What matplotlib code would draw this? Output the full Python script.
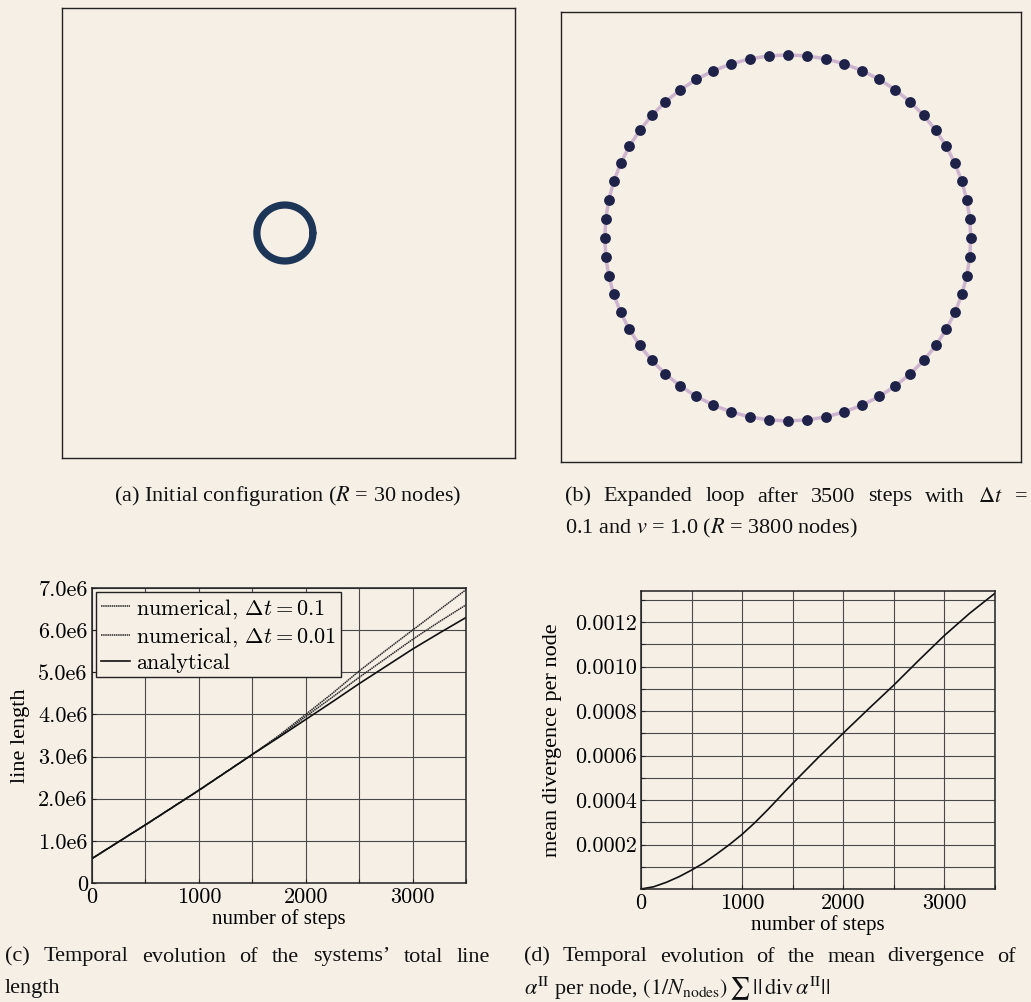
"""loop expansion figure: initial/expanded configuration, line length and divergence"""
import numpy as np
import matplotlib
matplotlib.use("Agg")
import matplotlib.pyplot as plt
from matplotlib.ticker import MultipleLocator, FixedLocator, FuncFormatter

# initial and expanded loop
R_initial = 30
n_nodes_initial = 190
R_expanded = 3800
n_nodes_expanded = 60

# line length vs. number of steps
steps = [0, 500, 1000, 1500, 1750, 2000, 2250, 2500, 2750, 3000, 3250, 3500]
length_dt01 = [0.58e6, 1.38e6, 2.20e6, 3.05e6, 3.50e6, 4.00e6, 4.50e6, 5.03e6,
               5.52e6, 6.00e6, 6.48e6, 6.96e6]
length_dt001 = [0.58e6, 1.38e6, 2.20e6, 3.05e6, 3.48e6, 3.95e6, 4.41e6, 4.88e6,
                5.33e6, 5.78e6, 6.20e6, 6.60e6]
length_analytical = [0.58e6, 1.38e6, 2.20e6, 3.05e6, 3.46e6, 3.88e6, 4.30e6, 4.73e6,
                     5.14e6, 5.55e6, 5.93e6, 6.30e6]

# mean divergence per node vs. number of steps
div_steps = [0, 125, 250, 375, 500, 625, 750, 875, 1000, 1125, 1250, 1375, 1500,
             1750, 2000, 2250, 2500, 2750, 3000, 3250, 3500]
mean_div = [0.0, 0.000010, 0.000030, 0.000055, 0.000085, 0.000118, 0.000158,
            0.000200, 0.000246, 0.000298, 0.000355, 0.000415, 0.000475,
            0.000590, 0.000701, 0.000810, 0.000917, 0.001030, 0.001140,
            0.001240, 0.001330]

BG = '#f6efe6'
LOOP_COLOR = '#1d3557'
NODE_COLOR = '#1f2248'

plt.rcParams['font.family'] = ['cmr10']
plt.rcParams['mathtext.fontset'] = 'cm'
plt.rcParams['axes.formatter.use_mathtext'] = True
plt.rcParams['axes.unicode_minus'] = False

CAPTION_FONT = ['Liberation Serif', 'DejaVu Serif']
W, H = 1031, 1002


def ax_rect(x0, y0, x1, y1):
    """pixel box (top-left origin) -> figure fraction rect"""
    return [x0 / W, 1 - y1 / H, (x1 - x0) / W, (y1 - y0) / H]


def loop_view(ax, radius, px_radius, box_w, box_h, fx, fy):
    """set limits so the loop of given radius spans px_radius pixels"""
    scale = px_radius / radius
    xr, yr = box_w / scale, box_h / scale
    ax.set_xlim(-fx * xr, (1 - fx) * xr)
    ax.set_ylim(-(1 - fy) * yr, fy * yr)
    ax.set_xticks([])
    ax.set_yticks([])
    ax.set_facecolor(BG)
    for sp in ax.spines.values():
        sp.set_linewidth(1.0)
        sp.set_color('#222222')


def caption(x, y, s, ha='left'):
    return fig.text(x / W, 1 - y / H, s, ha=ha, va='center', fontsize=16,
                    family=CAPTION_FONT, math_fontfamily='stix', color='#111111')


def caption_justified(x0, x1, y, words):
    """spread the words of one caption line over x0..x1 pixels"""
    texts = [caption(0, y, w) for w in words]
    renderer = fig.canvas.get_renderer()
    widths = [t.get_window_extent(renderer).width for t in texts]
    gap = (x1 - x0 - sum(widths)) / (len(words) - 1)
    x = x0
    for t, w in zip(texts, widths):
        t.set_x(x / W)
        x += w + gap


def axis_label(ax, xlabel, ylabel, ypad):
    ax.set_xlabel(xlabel, family=CAPTION_FONT, fontsize=15, labelpad=1.5)
    ax.set_ylabel(ylabel, family=CAPTION_FONT, fontsize=16, labelpad=ypad)


def style_plot(ax):
    ax.set_facecolor(BG)
    ax.grid(True, which='both', color='#4a4a4a', linewidth=0.8)
    ax.set_axisbelow(True)
    ax.tick_params(which='both', direction='in', length=3, width=0.8,
                   labelsize=16, pad=3, color='#222222')
    for sp in ax.spines.values():
        sp.set_linewidth(1.1)
        sp.set_color('#222222')


fig = plt.figure(figsize=(W / 100, H / 100), dpi=100, facecolor=BG)

# (a) initial configuration
ax_a = fig.add_axes(ax_rect(62, 8, 515, 458))
loop_view(ax_a, R_initial, 28, 453, 450, 0.492, 0.5)
theta = np.linspace(0, 2 * np.pi, n_nodes_initial + 1)
ax_a.plot(R_initial * np.cos(theta), R_initial * np.sin(theta),
          color=LOOP_COLOR, linewidth=5.2, solid_capstyle='round')

# (b) expanded loop
ax_b = fig.add_axes(ax_rect(561, 12, 1021, 462))
loop_view(ax_b, R_expanded, 183, 460, 450, 0.493, 0.502)
theta = np.linspace(0, 2 * np.pi, n_nodes_expanded + 1)
ax_b.plot(R_expanded * np.cos(theta), R_expanded * np.sin(theta),
          color='#cdb5cf', linewidth=2.5, zorder=1)
ax_b.plot(R_expanded * np.cos(theta[:-1]), R_expanded * np.sin(theta[:-1]),
          'o', color=NODE_COLOR, markersize=7.8, markeredgewidth=0, zorder=2)

caption(288, 496, r'(a) Initial configuration ($R$ = 30 nodes)', ha='center')
caption_justified(565, 1028, 497, ['(b)', 'Expanded', 'loop', 'after', '3500',
                                   'steps', 'with', r'$\Delta t$', '='])
caption(565, 528, r'0.1 and $v$ = 1.0 ($R$ = 3800 nodes)')

# (c) total line length
ax_c = fig.add_axes(ax_rect(92, 588, 466, 883))
style_plot(ax_c)
ax_c.plot(steps, length_dt01, color='#2a2a2a', linewidth=1.1,
          linestyle=(0, (1, 0.4)), label=r'numerical, $\Delta t = 0.1$')
ax_c.plot(steps, length_dt001, color='#2a2a2a', linewidth=1.1,
          linestyle=(0, (1, 0.4)), label=r'numerical, $\Delta t = 0.01$')
ax_c.plot(steps, length_analytical, color='#111111', linewidth=1.2,
          label='analytical')
ax_c.set_xlim(0, 3500)
ax_c.set_ylim(0, 7.0e6)
ax_c.xaxis.set_major_locator(MultipleLocator(1000))
ax_c.xaxis.set_minor_locator(MultipleLocator(500))
ax_c.yaxis.set_major_locator(MultipleLocator(1.0e6))
ax_c.xaxis.set_major_formatter(FuncFormatter(lambda v, p: f'{v:.0f}'))
ax_c.yaxis.set_major_formatter(
    FuncFormatter(lambda v, p: '0' if v == 0 else f'{v / 1e6:.1f}e6'))
axis_label(ax_c, 'number of steps', 'line length', 6)
leg = ax_c.legend(loc='upper left', bbox_to_anchor=(0.0, 1.0), fontsize=16,
                  fancybox=False, framealpha=1, facecolor=BG, edgecolor='#222222',
                  borderaxespad=0.2, borderpad=0.2, labelspacing=0.2,
                  handlelength=1.3, handletextpad=0.3)
leg.get_frame().set_linewidth(1.0)

caption_justified(5, 490, 957, ['(c)', 'Temporal', 'evolution', 'of', 'the',
                                'systems\u2019', 'total', 'line'])
caption(5, 988, 'length')

# (d) mean divergence per node
ax_d = fig.add_axes(ax_rect(641, 591, 995, 889))
style_plot(ax_d)
ax_d.plot(div_steps, mean_div, color='#111111', linewidth=1.2)
ax_d.set_xlim(0, 3500)
ax_d.set_ylim(0, 0.00134)
ax_d.xaxis.set_major_locator(MultipleLocator(1000))
ax_d.xaxis.set_minor_locator(MultipleLocator(500))
ax_d.yaxis.set_major_locator(FixedLocator([0.0002, 0.0004, 0.0006, 0.0008, 0.0010, 0.0012]))
ax_d.yaxis.set_minor_locator(MultipleLocator(0.0001))
ax_d.xaxis.set_major_formatter(FuncFormatter(lambda v, p: f'{v:.0f}'))
ax_d.yaxis.set_major_formatter(FuncFormatter(lambda v, p: f'{v:.4f}'))
axis_label(ax_d, 'number of steps', 'mean divergence per node', 9)

caption_justified(524, 1016, 957, ['(d)', 'Temporal', 'evolution', 'of', 'the',
                                   'mean', 'divergence', 'of'])
caption(524, 988, r'$\alpha^{\rm II}$ per node, $(1/N_{\rm nodes})\,\sum\,||\,{\rm div}\,\alpha^{\rm II}||$')

fig.savefig('out.png', dpi=100, facecolor=BG)
